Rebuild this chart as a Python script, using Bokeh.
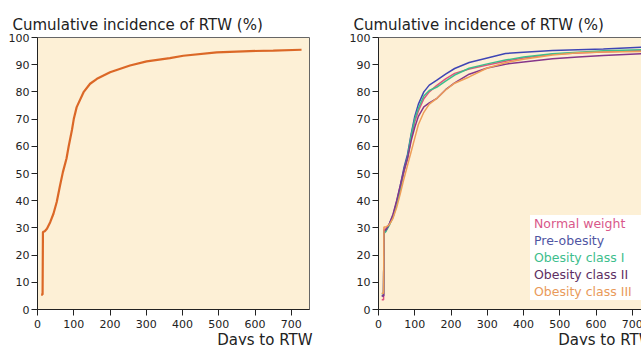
from bokeh.plotting import figure
from bokeh.layouts import row
from bokeh.models import Legend, LegendItem, FixedTicker, Range1d, Title
from bokeh.embed import file_html
from bokeh.resources import INLINE

# ---------------- data ----------------
title_text = "Cumulative incidence of RTW (%)"
x_label = "Days to RTW"
x_ticks = [0, 100, 200, 300, 400, 500, 600, 700]
y_ticks = [0, 10, 20, 30, 40, 50, 60, 70, 80, 90, 100]

# overall cumulative incidence (left panel)
all_days = [10, 14, 15, 20, 26, 35, 44, 53, 62, 70, 80, 86, 95, 100, 108, 127,
            145, 164, 200, 255, 301, 365, 402, 494, 585, 650, 728]
all_pct = [5.5, 5.5, 28.5, 28.8, 29.7, 32.1, 35.2, 39.5, 45.5, 50.5, 55.5, 60.0,
           66.0, 70.0, 74.4, 79.9, 83.0, 84.8, 87.2, 89.7, 91.2, 92.4, 93.3,
           94.5, 95.0, 95.2, 95.5]

# by BMI group (right panel)
groups = ["Normal weight", "Pre-obesity", "Obesity class I",
          "Obesity class II", "Obesity class III"]

grp_days = [9, 14, 15, 20, 30, 40, 50, 60, 70, 80, 90, 100, 110, 125, 140,
            160, 185, 210, 250, 300, 350, 400, 480, 550, 620, 725]

normal_pct = [3.6, 3.6, 29.5, 29.5, 31.5, 34.0, 38.5, 44.0, 50.5, 55.5, 63.0,
              69.0, 73.0, 77.5, 80.0, 82.3, 84.8, 86.8, 88.4, 89.9, 91.3, 92.5,
              93.8, 94.3, 94.7, 95.2]
preob_pct = [5.1, 5.1, 28.5, 28.8, 31.5, 34.5, 39.5, 45.5, 52.0, 57.0, 64.5,
             71.0, 75.5, 80.0, 82.5, 84.2, 86.5, 88.6, 90.8, 92.5, 94.1, 94.6,
             95.2, 95.5, 95.8, 96.4]
ob1_pct = [5.8, 5.8, 28.0, 28.6, 31.0, 34.0, 38.5, 44.5, 51.0, 56.0, 64.0,
           70.0, 74.0, 78.5, 80.5, 81.7, 84.0, 86.2, 88.7, 90.3, 91.7, 92.8,
           94.0, 94.6, 95.1, 95.5]
ob2_pct = [5.0, 5.0, 29.0, 29.2, 31.5, 35.0, 40.0, 45.5, 51.0, 55.5, 62.0,
           67.0, 71.0, 74.5, 76.0, 77.5, 80.8, 83.3, 86.5, 88.8, 90.2, 91.0,
           92.2, 92.8, 93.4, 94.0]
ob3_pct = [6.0, 6.0, 30.3, 30.3, 31.2, 33.5, 37.5, 42.5, 48.0, 53.0, 58.0,
           63.0, 68.0, 72.5, 75.5, 77.5, 80.7, 83.2, 85.5, 88.8, 90.7, 92.0,
           93.6, 94.4, 94.7, 94.9]

grp_pct = [normal_pct, preob_pct, ob1_pct, ob2_pct, ob3_pct]
line_colors = ["#E0527E", "#3F45B5", "#3DBE8C", "#86368A", "#EE9E58"]
label_colors = ["#D9588A", "#4F55A3", "#3DBE8C", "#5E2F62", "#E99A5A"]

# ---------------- style ----------------
BG = "#FDF0D6"
FONT = "DejaVu Sans"


def make_fig(border_left, border_right):
    p = figure(frame_width=272, frame_height=272,
               x_range=Range1d(0, 750), y_range=Range1d(0, 100),
               output_backend="svg", toolbar_location=None,
               min_border_left=border_left, min_border_right=border_right,
               min_border_top=37, min_border_bottom=10,
               background_fill_color=BG, border_fill_color="white",
               outline_line_color="#666666", outline_line_width=1)
    p.title.text = title_text
    p.title.text_font = FONT
    p.title.text_font_size = "15px"
    p.title.text_font_style = "normal"
    p.title.text_color = "#222222"
    p.title.align = "left"
    p.title.offset = -25
    p.title.standoff = 7
    p.grid.visible = False
    for ax in (p.xaxis, p.yaxis):
        ax.major_label_text_font = FONT
        ax.major_label_text_font_size = "11px"
        ax.major_label_text_color = "#222222"
        ax.axis_line_color = "#222222"
        ax.major_tick_line_color = "#222222"
        ax.major_tick_out = 6
        ax.major_tick_in = 0
        ax.minor_tick_line_color = None
        ax.major_label_standoff = 2
    p.xaxis.major_label_standoff = 4
    p.xaxis.ticker = FixedTicker(ticks=x_ticks)
    p.yaxis.ticker = FixedTicker(ticks=y_ticks)
    xt = Title(text=x_label, align="right", text_font=FONT,
               text_font_size="15px", text_font_style="normal",
               text_color="#222222", standoff=-3, offset=-3)
    p.add_layout(xt, "below")
    return p


p1 = make_fig(37, 36)
p1.line(all_days, all_pct, line_color="#D9601E", line_width=2.2, line_alpha=0.95)

p2 = make_fig(33, 40)
rends = []
for pct, col in zip(grp_pct, line_colors):
    rends.append(p2.line(grp_days, pct, line_color=col, line_width=1.5))

n = len(groups)
for i, (name, r, lc) in enumerate(zip(groups, rends, label_colors)):
    lg = Legend(items=[LegendItem(label=name, renderers=[r])],
                location=(152, 9 + (n - 1 - i) * 17),
                glyph_width=0, glyph_height=17, label_standoff=4,
                padding=2, margin=0, spacing=0,
                label_width=120, label_height=17,
                label_text_color=lc, label_text_font=FONT,
                label_text_font_size="12.5px",
                border_line_color=None, background_fill_color="white",
                background_fill_alpha=1.0)
    p2.add_layout(lg, "center")

layout = row(p1, p2)
open("out.html", "w").write(file_html(layout, INLINE))
